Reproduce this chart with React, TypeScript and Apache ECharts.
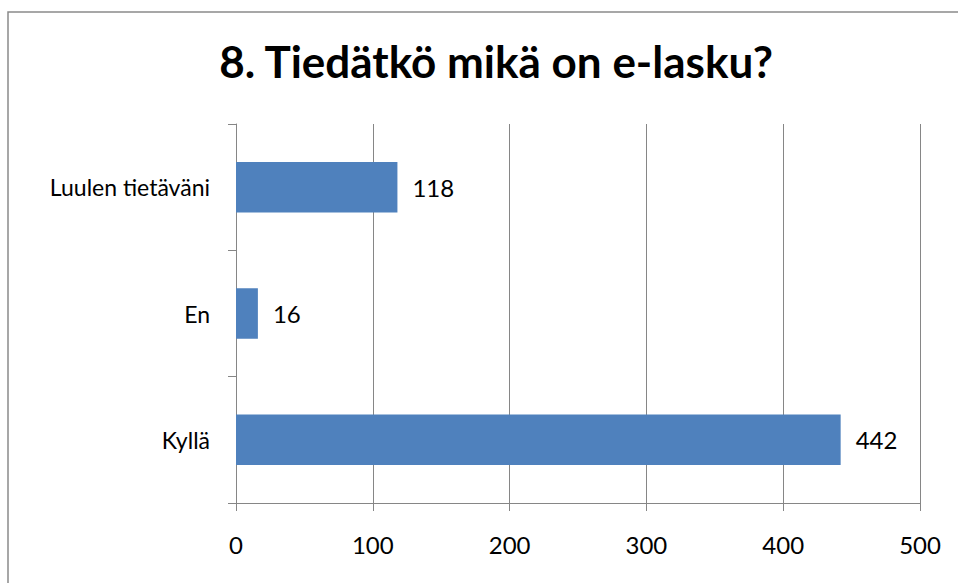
import React, { useEffect, useRef } from "react";
import * as echarts from "echarts";

const categories = ["Kyllä", "En", "Luulen tietäväni"];
const values = [442, 16, 118];
const xTicks = [0, 100, 200, 300, 400, 500];
const title = "8. Tiedätkö mikä on e-lasku?";

export default function App() {
  const ref = useRef<HTMLDivElement>(null);
  useEffect(() => {
    if (!ref.current) return;
    const chart = echarts.init(ref.current, undefined, { renderer: "svg" });
    const font = "Lato, 'Open Sans', sans-serif";
    chart.setOption({
      animation: false,
      backgroundColor: "#ffffff",
      title: {
        text: title,
        left: 491,
        textAlign: "center",
        top: 34,
        textStyle: { fontFamily: font, fontSize: 44, fontWeight: "bold", color: "#000" },
      },
      graphic: [
        {
          type: "rect",
          shape: { x: 8, y: 12, width: 1000, height: 1000 },
          style: { fill: "none", stroke: "#8a8a8a", lineWidth: 1.5 },
          silent: true,
        },
      ],
      grid: { left: 236, right: 38, top: 124, bottom: 80, containLabel: false },
      xAxis: {
        type: "value",
        min: xTicks[0],
        max: xTicks[xTicks.length - 1],
        interval: 100,
        axisLine: { show: true, lineStyle: { color: "#868686", width: 1 } },
        axisTick: { show: true, length: 8, lineStyle: { color: "#868686" } },
        splitLine: { show: true, lineStyle: { color: "#868686", width: 1 } },
        axisLabel: { fontFamily: font, fontSize: 24, color: "#000", margin: 29 },
      },
      yAxis: {
        type: "category",
        data: categories,
        axisLine: { show: true, lineStyle: { color: "#868686", width: 1 } },
        axisTick: { show: true, length: 8, lineStyle: { color: "#868686" } },
        axisLabel: { fontFamily: font, fontSize: 23, color: "#000", margin: 26 },
      },
      series: [
        {
          type: "bar",
          data: values,
          barCategoryGap: "60%",
          itemStyle: { color: "#4F81BD" },
          label: {
            show: true,
            position: "right",
            distance: 15,
            fontFamily: font,
            fontSize: 24,
            color: "#000",
          },
        },
      ],
    });
    return () => chart.dispose();
  }, []);
  return (
    <div
      ref={ref}
      style={{ position: "fixed", left: 0, top: 0, width: 958, height: 583 }}
    />
  );
}
